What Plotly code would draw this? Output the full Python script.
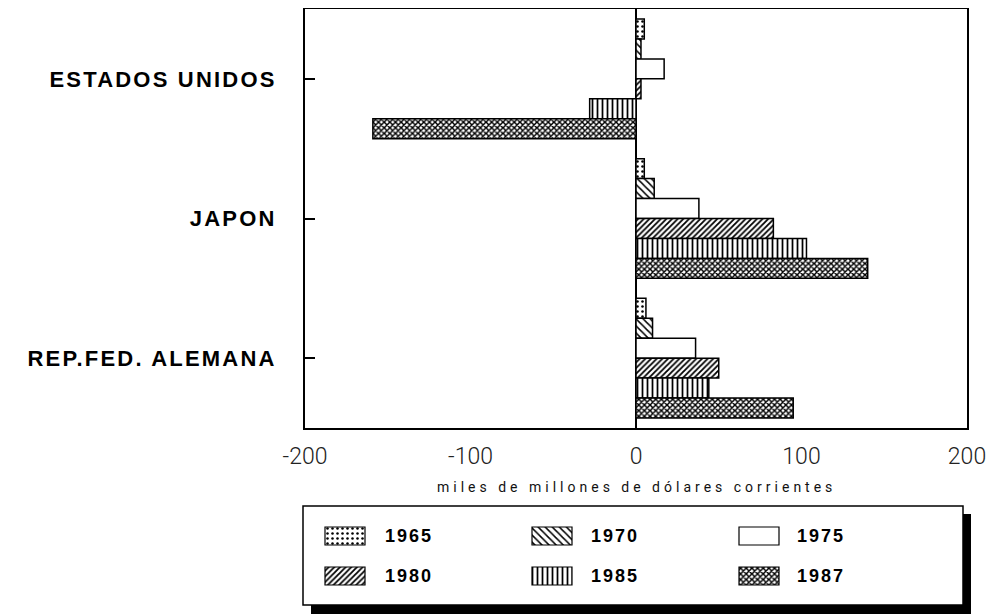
import plotly.graph_objects as go

# ---------------- data ----------------
countries = ["ESTADOS UNIDOS", "JAPON", "REP.FED. ALEMANA"]
years = ["1965", "1970", "1975", "1980", "1985", "1987"]
v1965 = [5, 5, 6]
v1970 = [3, 11, 10]
v1975 = [17, 38, 36]
v1980 = [3, 83, 50]
v1985 = [-28, 103, 44]
v1987 = [-159, 140, 95]
series = [v1965, v1970, v1975, v1980, v1985, v1987]
x_tickvals = [-200, -100, 0, 100, 200]
x_ticktext = ["-200", "-100", "0", "100", "200"]
axis_title = "miles de millones de dólares corrientes"

# ---------------- styles ----------------
styles = [
    dict(shape=".", size=5, solidity=0.2),
    dict(shape="\\", size=5, solidity=0.3),
    dict(shape="", size=8, solidity=0.1),
    dict(shape="/", size=4, solidity=0.45),
    dict(shape="|", size=5, solidity=0.35),
    dict(shape="x", size=4, solidity=0.6),
]

OFF = 8                      # default page body margin
W, H = 997 - OFF, 614 - OFF
ML, MR, MT, MB = 305 - OFF, 30, 9 - OFF, 0
PW, PH = W - ML - MR, H - MT - MB


def px_x(p):
    return (p - OFF - ML) / PW


def px_y(p):
    return (H - MB - (p - OFF)) / PH


fig = go.Figure()

for yr, vals, st in zip(years, series, styles):
    fig.add_trace(go.Bar(
        y=countries, x=vals, orientation="h", name=yr, showlegend=False,
        marker=dict(color="white", line=dict(color="black", width=1.5),
                    pattern=dict(shape=st["shape"], size=st["size"], solidity=st["solidity"],
                                 fgcolor="black", bgcolor="white", fillmode="replace")),
    ))

# legend swatches drawn in a helper subplot
for i, (yr, st) in enumerate(zip(years, styles)):
    col, row = i % 3, i // 3
    fig.add_trace(go.Bar(
        y=[30 + 40 * row], x=[40], base=[20 + 207 * col], width=[18], offset=-9,
        orientation="h", xaxis="x2", yaxis="y2", showlegend=False, hoverinfo="skip",
        marker=dict(color="white", line=dict(color="black", width=1.2),
                    pattern=dict(shape=st["shape"], size=st["size"], solidity=st["solidity"],
                                 fgcolor="black", bgcolor="white", fillmode="replace")),
    ))
    fig.add_annotation(x=78 + 206 * col, y=30 + 40 * row, xref="x2", yref="y2",
                       text='<span style="letter-spacing:2px">' + yr + '</span>',
                       showarrow=False, xanchor="left", yanchor="middle",
                       font=dict(family="Liberation Sans", size=18, color="black", weight="bold"))

fig.update_layout(
    width=W, height=H,
    margin=dict(l=ML, r=MR, t=MT, b=MB, pad=0),
    paper_bgcolor="white", plot_bgcolor="rgba(0,0,0,0)",
    barmode="group", bargap=0.143, bargroupgap=0,
    xaxis=dict(range=[-200, 200], domain=[0, 1], anchor="y",
               tickvals=x_tickvals, ticktext=x_ticktext, ticks="",
               showgrid=False, zeroline=True, zerolinecolor="black", zerolinewidth=2,
               showline=True, linecolor="black", linewidth=2, mirror=True,
               ticklabelstandoff=6,
               tickfont=dict(family="Roboto", size=23, color="#222", weight=300)),
    yaxis=dict(type="category", categoryorder="array", categoryarray=countries,
               range=[2.5, -0.5], domain=[px_y(428), 1], anchor="x",
               tickvals=countries,
               ticktext=['<span style="letter-spacing:2.2px">' + c + '</span>' for c in countries],
               ticks="inside", ticklen=10, tickwidth=1.5, tickcolor="black",
               showgrid=False, showline=True, linecolor="black", linewidth=2, mirror=True,
               ticklabelstandoff=22,
               tickfont=dict(family="Liberation Sans", size=22, color="black", weight="bold")),
    xaxis2=dict(range=[0, 662], domain=[0, 1], anchor="y2", visible=False, fixedrange=True),
    yaxis2=dict(range=[99, 0], domain=[px_y(605), px_y(506)], anchor="x2", visible=False,
                fixedrange=True),
)

fig.add_annotation(x=0.5, y=px_y(487), xref="paper", yref="paper",
                   text='<span style="letter-spacing:4px">' + axis_title + '</span>',
                   showarrow=False, xanchor="center", yanchor="middle",
                   font=dict(family="Roboto", size=14, color="#111", weight=400))

# legend box with drop shadow
fig.add_shape(type="rect", xref="paper", yref="paper", layer="below",
              x0=px_x(311), x1=px_x(971), y0=px_y(614), y1=px_y(514),
              fillcolor="black", line=dict(width=0))
fig.add_shape(type="rect", xref="paper", yref="paper", layer="below",
              x0=px_x(303), x1=px_x(963), y0=px_y(605), y1=px_y(506),
              fillcolor="white", line=dict(color="black", width=1.5))

fig.write_html("out.html")
